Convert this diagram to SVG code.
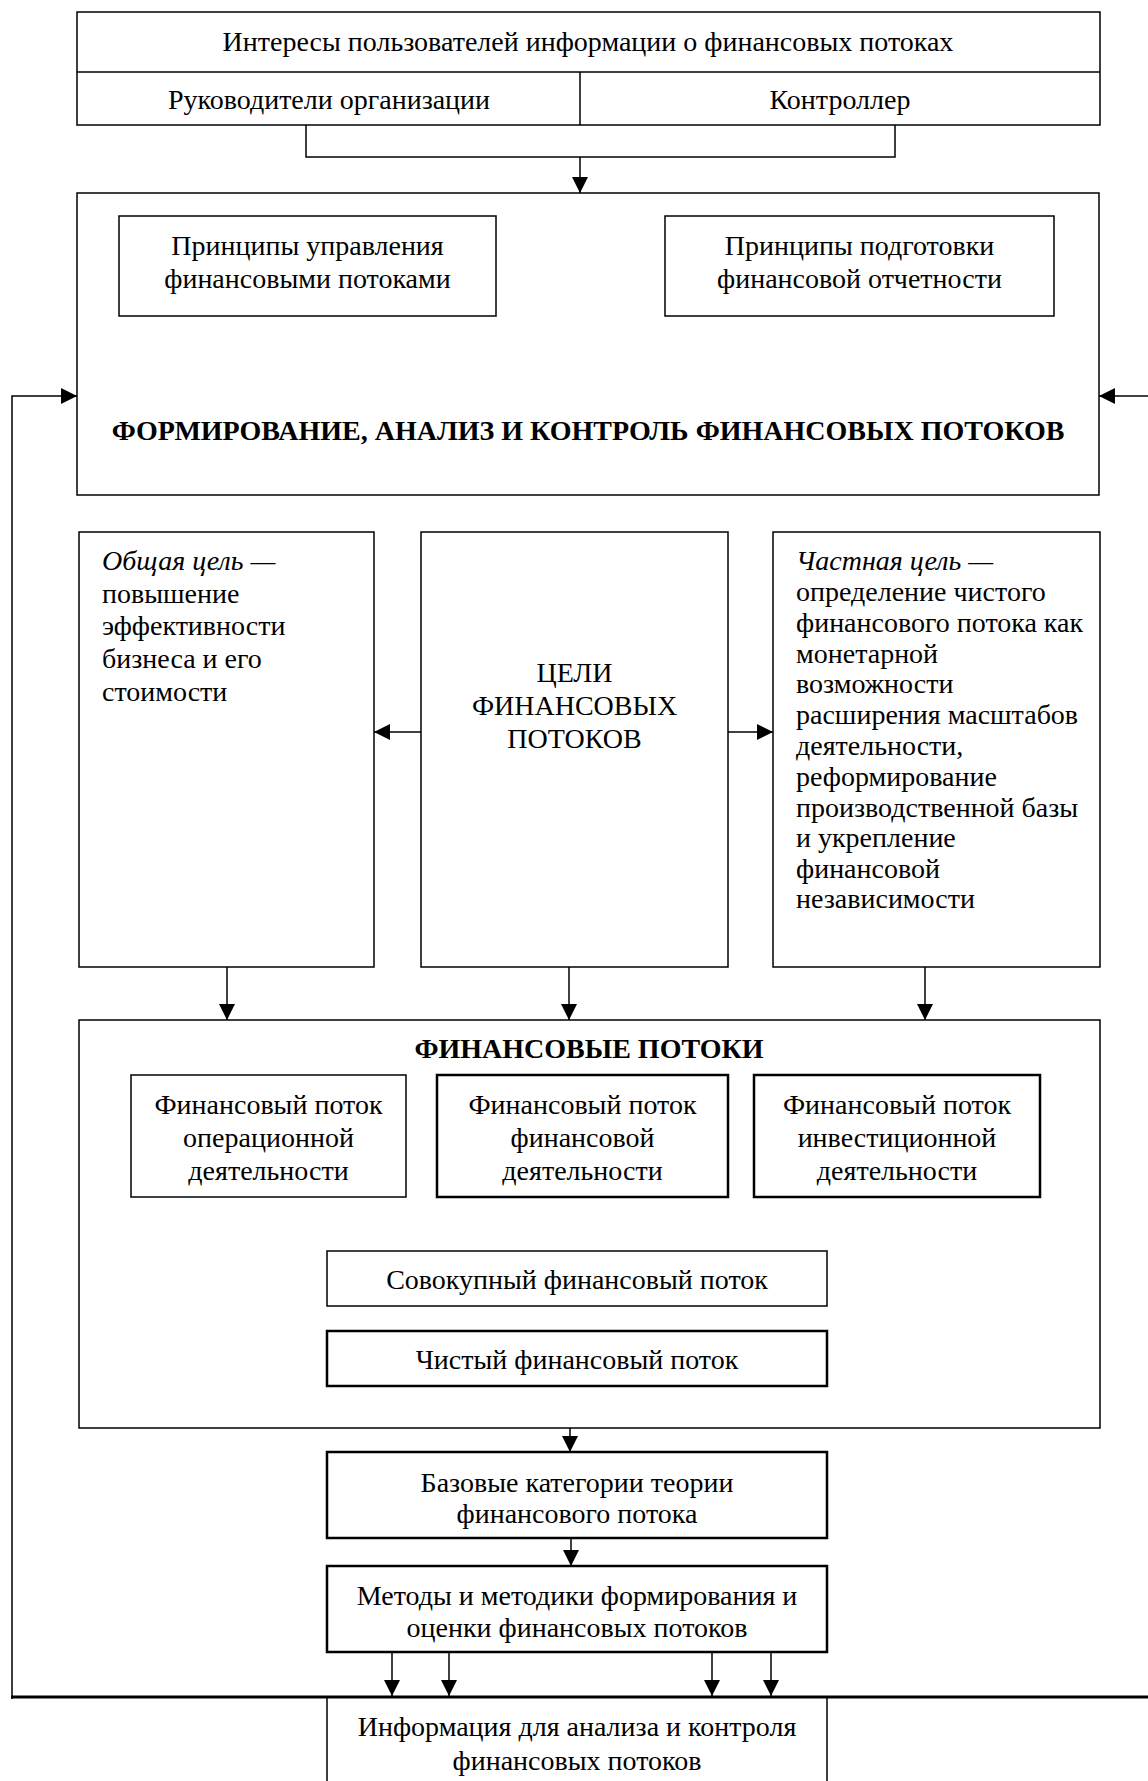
<svg xmlns="http://www.w3.org/2000/svg" width="1148" height="1781" viewBox="0 0 1148 1781">
<style>
.b{fill:#fff;stroke:#000;stroke-width:1.5}
.bt{fill:#fff;stroke:#000;stroke-width:2.5}
.t{font-family:"Liberation Serif","Times New Roman",serif;font-size:28px;fill:#000}
.c{text-anchor:middle}
.bd{font-weight:bold}
.i{font-style:italic}
.ln{fill:none;stroke:#000;stroke-width:1.5}
.lt{fill:none;stroke:#000;stroke-width:3}
</style>
<defs>
<marker id="ah" markerUnits="userSpaceOnUse" markerWidth="16" markerHeight="16" refX="16" refY="8" orient="auto">
<path d="M0,0 L16,8 L0,16 z" fill="#000"/>
</marker>
</defs>
<rect width="1148" height="1781" fill="#fff"/>

<g id="connectors">
<path class="ln" d="M306,125 V157 H895 V125"/>
<path class="ln" d="M580,157 V193" marker-end="url(#ah)"/>
<path class="ln" d="M12,1699 V396 H77" marker-end="url(#ah)"/>
<path class="ln" d="M1148,396 H1099" marker-end="url(#ah)"/>
<path class="ln" d="M421,732 H374" marker-end="url(#ah)"/>
<path class="ln" d="M728,732 H773" marker-end="url(#ah)"/>
<path class="ln" d="M227,967 V1020" marker-end="url(#ah)"/>
<path class="ln" d="M569,967 V1020" marker-end="url(#ah)"/>
<path class="ln" d="M925,967 V1020" marker-end="url(#ah)"/>
<path class="ln" d="M570,1428 V1452" marker-end="url(#ah)"/>
<path class="ln" d="M571,1538 V1566" marker-end="url(#ah)"/>
<path class="ln" d="M392,1652 V1696" marker-end="url(#ah)"/>
<path class="ln" d="M449,1652 V1696" marker-end="url(#ah)"/>
<path class="ln" d="M712,1652 V1696" marker-end="url(#ah)"/>
<path class="ln" d="M771,1652 V1696" marker-end="url(#ah)"/>
</g>

<g id="users">
<rect class="b" x="77" y="12" width="1023" height="113"/>
<line class="ln" x1="77" y1="72" x2="1100" y2="72"/>
<line class="ln" x1="580" y1="72" x2="580" y2="125"/>
<text class="t c" x="588" y="51">Интересы пользователей информации о финансовых потоках</text>
</g>
<g id="managers">
<text class="t c" x="329" y="109">Руководители  организации</text>
</g>
<g id="controller">
<text class="t c" x="840" y="109">Контроллер</text>
</g>

<g id="formation">
<rect class="b" x="77" y="193" width="1022" height="302"/>
<text class="t c bd" x="588" y="440">ФОРМИРОВАНИЕ, АНАЛИЗ И КОНТРОЛЬ ФИНАНСОВЫХ ПОТОКОВ</text>
</g>
<g id="principles-mgmt">
<rect class="b" x="119" y="216" width="377" height="100"/>
<text class="t c" x="307.5" y="255">Принципы управления</text>
<text class="t c" x="307.5" y="288">финансовыми потоками</text>
</g>
<g id="principles-report">
<rect class="b" x="665" y="216" width="389" height="100"/>
<text class="t c" x="859.5" y="255">Принципы подготовки</text>
<text class="t c" x="859.5" y="288">финансовой отчетности</text>
</g>

<g id="general-goal">
<rect class="b" x="79" y="532" width="295" height="435"/>
<text class="t" x="102" y="570"><tspan class="i">Общая цель —</tspan></text>
<text class="t" x="102" y="603">повышение</text>
<text class="t" x="102" y="635">эффективности</text>
<text class="t" x="102" y="668">бизнеса и его</text>
<text class="t" x="102" y="701">стоимости</text>
</g>
<g id="goals">
<rect class="b" x="421" y="532" width="307" height="435"/>
<text class="t c" x="574.5" y="682">ЦЕЛИ</text>
<text class="t c" x="574.5" y="715">ФИНАНСОВЫХ</text>
<text class="t c" x="574.5" y="748">ПОТОКОВ</text>
</g>
<g id="private-goal">
<rect class="b" x="773" y="532" width="327" height="435"/>
<text class="t" x="796" y="570"><tspan class="i">Частная цель —</tspan></text>
<text class="t" x="796" y="601">определение чистого</text>
<text class="t" x="796" y="632">финансового потока как</text>
<text class="t" x="796" y="663">монетарной</text>
<text class="t" x="796" y="693">возможности</text>
<text class="t" x="796" y="724">расширения масштабов</text>
<text class="t" x="796" y="755">деятельности,</text>
<text class="t" x="796" y="786">реформирование</text>
<text class="t" x="796" y="817">производственной базы</text>
<text class="t" x="796" y="847">и укрепление</text>
<text class="t" x="796" y="878">финансовой</text>
<text class="t" x="796" y="908">независимости</text>
</g>

<g id="flows">
<rect class="b" x="79" y="1020" width="1021" height="408"/>
<text class="t c bd" x="589" y="1058">ФИНАНСОВЫЕ ПОТОКИ</text>
</g>
<g id="flow-operating">
<rect class="b" x="131" y="1075" width="275" height="122"/>
<text class="t c" x="268.5" y="1114">Финансовый поток</text>
<text class="t c" x="268.5" y="1147">операционной</text>
<text class="t c" x="268.5" y="1180">деятельности</text>
</g>
<g id="flow-financial">
<rect class="bt" x="437" y="1075" width="291" height="122"/>
<text class="t c" x="582.5" y="1114">Финансовый поток</text>
<text class="t c" x="582.5" y="1147">финансовой</text>
<text class="t c" x="582.5" y="1180">деятельности</text>
</g>
<g id="flow-investing">
<rect class="bt" x="754" y="1075" width="286" height="122"/>
<text class="t c" x="897" y="1114">Финансовый поток</text>
<text class="t c" x="897" y="1147">инвестиционной</text>
<text class="t c" x="897" y="1180">деятельности</text>
</g>
<g id="total-flow">
<rect class="b" x="327" y="1251" width="500" height="55"/>
<text class="t c" x="577" y="1289">Совокупный финансовый поток</text>
</g>
<g id="net-flow">
<rect class="bt" x="327" y="1331" width="500" height="55"/>
<text class="t c" x="577" y="1369">Чистый финансовый поток</text>
</g>

<g id="base-categories">
<rect class="bt" x="327" y="1452" width="500" height="86"/>
<text class="t c" x="577" y="1492">Базовые категории теории</text>
<text class="t c" x="577" y="1523">финансового потока</text>
</g>
<g id="methods">
<rect class="bt" x="327" y="1566" width="500" height="86"/>
<text class="t c" x="577" y="1605">Методы и методики формирования и</text>
<text class="t c" x="577" y="1637">оценки финансовых потоков</text>
</g>
<g id="information">
<path class="ln" d="M327,1697 V1781 M827,1697 V1781"/>
<line class="lt" x1="11" y1="1697" x2="1148" y2="1697"/>
<text class="t c" x="577" y="1736">Информация для анализа и контроля</text>
<text class="t c" x="577" y="1770">финансовых потоков</text>
</g>
</svg>
